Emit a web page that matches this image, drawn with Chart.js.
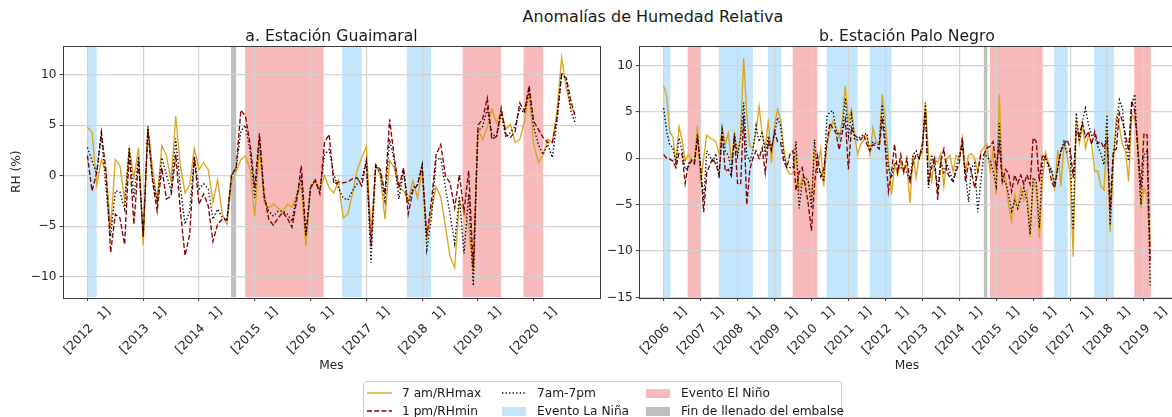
<!DOCTYPE html>
<html>
<head>
<meta charset="utf-8">
<title>Anomalías de Humedad Relativa</title>
<script src="https://cdn.jsdelivr.net/npm/chart.js@4.4.1/dist/chart.umd.min.js"></script>
<style>
  html, body { margin: 0; padding: 0; background: #fff; overflow: hidden; }
  #fig { position: relative; width: 1172px; height: 417px; overflow: hidden;
         font-family: 'DejaVu Sans', sans-serif; color: #1a1a1a; }
  #suptitle { position: absolute; left: 653px; top: 8px; transform: translateX(-50%);
              font-size: 16px; line-height: 18px; white-space: nowrap; }
  canvas { position: absolute; top: 0; }
  #panelA { left: 0; }
  #panelB { left: 585px; }
  #legend { position: absolute; left: 363px; top: 381px; width: 477px; height: 50px;
            border: 1px solid #cccccc; border-radius: 3px; background: rgba(255,255,255,0.85);
            font-size: 12.2px; }
  .item { position: absolute; height: 16px; display: flex; align-items: center; white-space: nowrap; }
  .item svg { display: block; }
  .swatch { display: inline-block; width: 24px; height: 9px; }
</style>
</head>
<body>
<div id="fig">
  <div id="suptitle">Anomalías de Humedad Relativa</div>
  <canvas id="panelA" width="615" height="417"></canvas>
  <canvas id="panelB" width="615" height="417"></canvas>
  <div id="legend">
    <div class="item" style="left:3px;top:3px;"><svg width="25" height="10"><line x1="0" y1="5" x2="25" y2="5" stroke="#daa520" stroke-width="1.35"/></svg><span style="margin-left:10px">7 am/RHmax</span></div>
    <div class="item" style="left:3px;top:21px;"><svg width="25" height="10"><line x1="0" y1="5" x2="25" y2="5" stroke="#8b0000" stroke-width="1.35" stroke-dasharray="5 2.2"/></svg><span style="margin-left:10px">1 pm/RHmin</span></div>
    <div class="item" style="left:138px;top:3px;"><svg width="25" height="10"><line x1="0" y1="5" x2="25" y2="5" stroke="#000" stroke-width="1.35" stroke-dasharray="1.35 2.2"/></svg><span style="margin-left:10px">7am-7pm</span></div>
    <div class="item" style="left:138px;top:21px;"><span class="swatch" style="background:rgba(135,206,250,0.5)"></span><span style="margin-left:11px">Evento La Niña</span></div>
    <div class="item" style="left:282px;top:3px;"><span class="swatch" style="background:rgba(240,128,128,0.55)"></span><span style="margin-left:11px">Evento El Niño</span></div>
    <div class="item" style="left:282px;top:21px;"><span class="swatch" style="background:rgba(128,128,128,0.5)"></span><span style="margin-left:11px">Fin de llenado del embalse</span></div>
  </div>
</div>
<script>
// ---------- Estación Guaimaral: monthly anomalies from Jan 2012 ----------
const guaimaralStartYear = 2012;
const guaimaralMax = [
  4.8, 4.3, -0.9, 1.6, 0.4, -5.2, 1.6, 1.0, -2.4, 2.7,
  -0.2, 2.8, -6.9, 4.9, 0.8, -2.5, 3.0, 2.0, -0.5, 5.9,
  1.0, -1.7, -0.9, 2.7, 0.6, 1.3, 0.6, -2.6, -0.4, -3.8,
  -4.8, -0.7, 0.4, 1.6, 2.0, 0.6, -4.0, 2.8, -2.6, -3.2,
  -2.8, -3.2, -3.6, -2.8, -3.1, -2.0, -1.0, -7.0, -1.2, -0.5,
  -1.4, 0.0, -1.2, -1.7, -0.5, -4.2, -3.8, -1.8, 0.5, 1.8,
  2.9, -6.0, 1.0, 0.1, -4.3, 1.5, 0.8, -1.2, -1.5, -2.5,
  -0.5, -2.2, 0.5, -6.3, -3.4, -1.1, -2.1, -5.0, -8.0, -9.1,
  -2.5, -3.5, -5.0, -9.5, 4.6, 3.6, 4.8, 6.6, 5.2, 6.4,
  4.6, 5.1, 3.3, 3.6, 5.4, 8.2, 3.1, 1.3, 2.1, 3.6,
  3.3, 6.4, 11.7, 8.7, 6.7, 6.2
];
const guaimaralMin = [
  2.0, -1.5, 0.3, 4.3, 0.5, -7.6, -3.8, -4.2, -6.8, 2.4,
  -4.8, 1.5, -6.0, 4.6, -0.5, -3.5, 0.8, -2.3, -2.0, 2.1,
  -3.5, -7.9, -5.8, 1.8, -2.8, -1.8, -3.0, -6.5, -4.8, -4.3,
  -4.4, 0.1, 0.8, 6.5, 5.9, 3.1, -1.2, 4.2, -1.8, -4.3,
  -4.9, -4.2, -3.6, -4.2, -5.1, -2.5, 1.0, -5.8, -1.2, -0.4,
  -1.8, 3.3, 4.1, -0.8, -0.6, -0.7, -0.6, -0.3, -0.2, -1.0,
  1.5, -7.0, 1.1, 0.6, -1.8, 5.6, 1.8, -1.2, 0.8, -3.8,
  -1.5, -0.9, 1.0, -6.0, -2.5, 2.1, 3.1, 0.0, -0.7, -3.2,
  0.1, -3.5, 0.5, -9.1, 5.0, 5.6, 7.7, 3.6, 3.9, 6.7,
  4.1, 3.8, 4.4, 7.2, 6.4, 8.9, 5.4, 4.6, 3.8, 3.3,
  3.3, 5.7, 10.0, 9.7, 7.4, 5.7
];
const guaimaralMean = [
  2.8, 1.5, 0.2, 4.1, -1.2, -6.0, -1.5, -1.6, -3.3, 2.8,
  -2.2, 1.9, -6.0, 4.9, -0.2, -2.5, 1.8, 0.1, -1.5, 3.7,
  -1.2, -4.8, -3.5, 1.9, -1.3, -0.8, -1.3, -4.3, -3.3, -4.1,
  -4.4, 0.0, 0.8, 4.4, 5.0, 2.4, -2.2, 3.8, -2.2, -3.5,
  -4.0, -3.5, -3.5, -3.8, -4.5, -2.0, -0.2, -6.0, -1.0, -0.5,
  -1.5, 2.1, 2.6, 0.1, -1.2, -2.2, -2.4, -1.5, -0.8, -0.3,
  1.5, -8.6, 1.0, 0.3, -2.5, 3.6, 1.5, -2.3, 0.5, -2.8,
  -1.2, -0.9, 1.1, -7.3, -4.2, 1.5, 1.8, -1.2, -3.8, -6.7,
  -2.0, -7.7, -1.8, -10.9, 4.4, 4.9, 6.6, 4.1, 3.9, 6.2,
  3.8, 4.3, 4.9, 6.7, 6.2, 8.4, 4.8, 3.1, 2.1, 3.1,
  1.8, 5.4, 10.2, 9.5, 6.4, 5.1
];
const guaimaralYears = [2012, 2013, 2014, 2015, 2016, 2017, 2018, 2019, 2020];
// event windows, in months since the first month of the record
const guaimaralNina = [[0, 2.0], [54.8, 59.0], [68.7, 73.9]];
const guaimaralNino = [[33.9, 50.8], [80.7, 89.0], [93.8, 98.0]];
const guaimaralFill = [[30.9, 32.0]];
const guaimaralYTicks = [-10, -5, 0, 5, 10];

// ---------- Estación Palo Negro: monthly anomalies from Jan 2006 ----------
const paloNegroStartYear = 2006;
const paloNegroMax = [
  7.8, 6.7, 2.8, 2.3, -0.5, 3.4, 2.0, -0.3, 0.4, -0.1,
  -0.3, 3.5, -2.8, 0.0, 2.5, 2.2, 2.0, 1.8, 0.4, 3.3,
  1.5, 2.7, -0.3, 2.6, 0.4, 2.5, 10.8, 4.7, 1.3, 1.1,
  2.8, 5.6, 2.7, 1.1, 4.2, -0.5, 3.5, 5.3, 4.2, 1.1,
  -1.2, -1.7, -1.7, 0.6, -3.5, -2.0, -3.0, -2.5, -4.3, 0.5,
  -1.0, 1.0, -3.0, 1.5, 2.9, 4.0, 3.2, 2.2, 4.0, 7.8,
  4.0, 5.3, 2.5, 0.4, 1.5, 2.0, 2.4, 0.4, 3.3, 1.8,
  1.5, 6.9, 4.0, 0.0, -3.9, -0.7, -1.8, -0.3, -1.4, -0.7,
  -4.8, 0.4, -2.1, 0.4, 0.5, 6.0, 0.4, -2.5, 0.0, -0.5,
  0.5, -3.0, 0.0, 0.3, -1.4, 0.3, 0.0, 2.2, -1.4, 0.3,
  0.5, 0.0, -1.5, 0.7, 1.2, 1.5, -1.4, 0.8, -3.9, 6.9,
  -2.5, -1.9, -5.0, -6.8, -3.9, -5.4, -3.2, -4.5, -3.5, -8.5,
  -2.5, -3.2, -8.6, -2.5, 0.6, -0.5, -1.4, -3.2, 0.9, -3.0,
  1.5, 0.4, -1.8, -10.6, 4.2, 1.6, 3.6, 1.1, 2.5, 1.5,
  -1.4, -1.4, -3.0, -3.4, 2.9, -7.9, -0.7, 4.5, 3.4, 1.5,
  0.7, -2.5, 4.7, 4.2, 2.4, -5.4, -3.2, -4.0, -9.5
];
const paloNegroMin = [
  0.4, 0.0, -0.1, -0.3, -1.0, 0.6, 0.4, -2.7, -0.6, -0.3,
  -0.6, 2.2, -1.0, -5.8, -1.6, -0.7, 0.0, -0.7, -1.8, 2.9,
  -1.4, -1.2, -1.9, 2.4, -2.7, -2.8, 4.6, -5.0, -1.2, 0.0,
  0.8, 0.0, 1.1, -1.6, 1.8, 0.8, 2.9, 1.8, 1.7, -0.3,
  -1.0, 0.4, 0.8, -3.5, -1.5, -1.0, -3.0, -5.0, -7.8, -2.8,
  0.2, -2.0, -1.2, 1.5, 3.8, 3.2, 2.7, 0.9, 2.8, 4.2,
  -1.2, 3.3, 2.5, 2.2, 2.0, 2.5, 1.5, 0.8, 1.5, 1.3,
  1.0, 4.4, 1.0, -3.6, -1.5, 1.5, -1.5, 0.4, -1.5, 0.0,
  -2.5, -0.5, 0.4, 0.0, 1.5, 5.0, -2.8, -1.0, 0.0, -4.5,
  -0.3, 1.0, -1.4, -2.1, -2.5, -1.4, -0.5, 2.2, -2.5, -0.5,
  -1.5, -3.2, -1.5, 0.4, 0.4, 1.1, 1.3, 1.8, -1.0, 1.5,
  -2.5, -1.2, -1.6, -3.6, -1.8, -2.7, -1.8, -2.8, -1.8, -2.8,
  2.2, 1.8, -2.5, 0.4, 0.0, -0.7, -2.5, -3.2, -1.0, 0.8,
  1.5, 2.0, 1.1, -2.1, 2.9, 2.5, 3.8, 2.3, 2.9, 1.5,
  2.9, 1.6, 1.8, 1.1, 2.0, -5.5, 0.8, 1.0, 4.9, 4.0,
  2.5, 0.8, 6.2, 5.1, 1.0, -3.2, 2.7, 2.5, -11.0
];
const paloNegroMean = [
  5.4, 2.9, 1.4, 1.2, -0.6, 2.2, 0.8, -1.2, -1.0, -0.2,
  -0.5, 2.6, -1.0, -4.5, 0.8, 0.2, -0.3, 0.5, -2.1, 3.1,
  0.8, 0.3, -1.4, 2.7, 0.3, 2.2, 6.0, 0.4, -0.3, 0.8,
  3.5, 1.8, 2.9, 0.4, 2.4, 1.1, 2.6, 4.4, 3.5, 0.4,
  -1.0, -1.0, -1.0, 1.8, -5.4, -2.5, -2.0, -2.5, -5.4, 2.0,
  -1.5, -1.5, -2.5, 4.5, 5.0, 5.1, 3.0, 2.5, 2.9, 6.5,
  2.4, 4.7, 2.0, 2.0, 2.4, 2.5, 2.7, 0.8, 1.8, 1.5,
  1.5, 5.8, 2.0, -1.0, -2.1, -0.5, -0.7, -1.0, -1.4, -1.5,
  -2.5, 0.4, 0.8, 0.0, 1.0, 6.0, -3.2, 0.4, -1.0, -3.2,
  -0.3, -1.5, -0.6, -1.6, -2.5, -0.9, 0.3, 1.3, -1.5, -4.7,
  -1.0, -0.5, -5.8, -2.5, 0.4, 0.2, -0.3, -1.4, -3.0, 3.8,
  -2.5, -2.5, -3.9, -5.7, -4.6, -5.4, -4.3, -3.2, -4.6, -8.2,
  -2.1, -2.5, -7.5, -0.5, 0.2, -1.0, -1.2, -2.8, -1.0, 0.8,
  1.8, 0.6, 0.8, -7.7, 4.9, 1.8, 4.0, 5.4, 3.6, 2.5,
  2.4, 1.3, 0.5, -0.7, 4.7, -7.2, 0.0, 3.3, 6.3, 5.4,
  1.5, -0.3, 5.8, 6.9, 0.4, -5.0, 0.4, 0.8, -13.7
];
const paloNegroYears = [2006, 2007, 2008, 2009, 2010, 2011, 2012, 2013, 2014, 2015, 2016, 2017, 2018, 2019];
const paloNegroNina = [[0, 2.2], [17.9, 29.0], [33.9, 38.2], [52.9, 63.0], [67.0, 74.0], [126.8, 131.2], [139.8, 146.2]];
const paloNegroNino = [[7.8, 11.9], [41.9, 49.9], [106.0, 123.1], [152.8, 158.2]];
const paloNegroFill = [[104.0, 105.1]];
const paloNegroYTicks = [-15, -10, -5, 0, 5, 10];

// ---------- styling ----------
const FONT = "'DejaVu Sans', sans-serif";
const TICK_SIZE = 12.2;
const TITLE_SIZE = 15.7;
const TEXT = '#262626';
const SPINE = '#3b3b3b';
const GRID = '#d2d2d2';
const COLOR_MAX = '#daa520';
const COLOR_MIN = '#8b0000';
const COLOR_MEAN = '#000000';
const NINA_FILL = 'rgba(135,206,250,0.5)';
const NINO_FILL = 'rgba(240,128,128,0.55)';
const FILL_GRAY = 'rgba(128,128,128,0.5)';

Chart.defaults.font.family = FONT;
Chart.defaults.font.size = TICK_SIZE;
Chart.defaults.color = TEXT;

const minus = v => (v < 0 ? '\u2212' + Math.abs(v) : String(v));

// shaded event windows, painted before the grid so grid lines stay visible
const shadePlugin = {
  id: 'shade',
  beforeDraw(chart, args, opts) {
    const { ctx, chartArea: a, scales: { x } } = chart;
    ctx.save();
    ctx.beginPath();
    ctx.rect(a.left, a.top, a.right - a.left, a.bottom - a.top);
    ctx.clip();
    for (const g of opts.groups) {
      ctx.fillStyle = g.color;
      for (const [s, e] of g.ranges) {
        const x0 = x.getPixelForValue(s);
        const x1 = x.getPixelForValue(e);
        ctx.fillRect(x0, a.top, x1 - x0, a.bottom - a.top);
      }
    }
    ctx.restore();
  }
};

// closed box around the plotting area
const framePlugin = {
  id: 'frame',
  afterDraw(chart) {
    const { ctx, chartArea: a } = chart;
    ctx.save();
    ctx.strokeStyle = SPINE;
    ctx.lineWidth = 1;
    ctx.strokeRect(Math.round(a.left) + 0.5, Math.round(a.top) + 0.5,
                   Math.round(a.right - a.left), Math.round(a.bottom - a.top));
    ctx.restore();
  }
};

// diagonal "[year   1]" labels, centred under each January tick
const yearLabelPlugin = {
  id: 'yearLabels',
  afterDraw(chart, args, opts) {
    const { ctx, chartArea: a, scales: { x } } = chart;
    ctx.save();
    ctx.font = TICK_SIZE + 'px ' + FONT;
    ctx.fillStyle = TEXT;
    ctx.textAlign = 'center';
    ctx.textBaseline = 'middle';
    const h = TICK_SIZE * 1.17;
    for (const t of opts.ticks) {
      const px = x.getPixelForValue(t.value);
      const w = ctx.measureText(t.label).width;
      const boxH = (w + h) * Math.SQRT1_2;
      const cy = a.bottom + 7 + boxH / 2;
      ctx.save();
      ctx.translate(px, cy);
      ctx.rotate(-Math.PI / 4);
      ctx.fillText(t.label, 0, 0);
      ctx.restore();
    }
    ctx.restore();
  }
};

function buildPanel(id, p) {
  const pts = vals => vals.map((v, i) => ({ x: i, y: v }));
  const xTicks = p.years.map(yr => ({ value: (yr - p.startYear) * 12, label: '[' + yr + '   1]' }));
  const gridOpts = { color: GRID, lineWidth: 1.2, tickLength: 3.5, tickColor: SPINE, tickWidth: 1 };
  return new Chart(document.getElementById(id), {
    type: 'line',
    data: {
      datasets: [
        { label: '7 am/RHmax', data: pts(p.max), borderColor: COLOR_MAX, borderWidth: 1.35, order: 3 },
        { label: '1 pm/RHmin', data: pts(p.min), borderColor: COLOR_MIN, borderWidth: 1.35, borderDash: [5, 2.2], order: 2 },
        { label: '7am-7pm', data: pts(p.mean), borderColor: COLOR_MEAN, borderWidth: 1.35, borderDash: [1.35, 2.2], order: 1 }
      ]
    },
    options: {
      responsive: false,
      animation: false,
      devicePixelRatio: 1,
      elements: { point: { radius: 0 }, line: { tension: 0, fill: false } },
      layout: { padding: p.padding },
      plugins: {
        legend: { display: false },
        tooltip: { enabled: false },
        title: {
          display: true, text: p.title, fullSize: false, color: '#1a1a1a',
          font: { size: TITLE_SIZE, weight: 'normal', lineHeight: 1.2 }, padding: { top: 0, bottom: 0 }
        },
        shade: {
          groups: [
            { color: NINA_FILL, ranges: p.nina },
            { color: NINO_FILL, ranges: p.nino },
            { color: FILL_GRAY, ranges: p.fill }
          ]
        },
        yearLabels: { ticks: xTicks }
      },
      scales: {
        x: {
          type: 'linear', min: p.xMin, max: p.xMax,
          afterBuildTicks: s => { s.ticks = xTicks.map(t => ({ value: t.value })); },
          afterFit: s => { s.height = 76; },
          grid: gridOpts,
          border: { display: false },
          ticks: { display: false },
          title: { display: true, text: 'Mes', color: TEXT, font: { size: TICK_SIZE }, padding: 0 }
        },
        y: {
          type: 'linear', min: p.yMin, max: p.yMax,
          afterBuildTicks: s => { s.ticks = p.yTicks.map(v => ({ value: v })); },
          afterFit: s => { s.width = p.yWidth; },
          grid: gridOpts,
          border: { display: false },
          ticks: { padding: 3, color: TEXT, callback: v => minus(v) },
          title: p.yTitle
            ? { display: true, text: p.yTitle, color: TEXT, font: { size: TICK_SIZE }, padding: { top: 10, bottom: 0 } }
            : { display: false }
        }
      }
    },
    plugins: [shadePlugin, framePlugin, yearLabelPlugin]
  });
}

// title block is TITLE_SIZE*1.2 tall; top padding keeps the plot top at y=46
const titleBlock = TITLE_SIZE * 1.2;

buildPanel('panelA', {
  title: 'a. Estación Guaimaral', yTitle: 'RH (%)',
  startYear: guaimaralStartYear, years: guaimaralYears,
  max: guaimaralMax, min: guaimaralMin, mean: guaimaralMean,
  nina: guaimaralNina, nino: guaimaralNino, fill: guaimaralFill,
  xMin: -5.25, xMax: 110.25, yMin: -12.05, yMax: 12.85, yTicks: guaimaralYTicks,
  yWidth: 63, padding: { left: 0, right: 15, top: 46 - titleBlock, bottom: 43.5 }
});

buildPanel('panelB', {
  title: 'b. Estación Palo Negro', yTitle: null,
  startYear: paloNegroStartYear, years: paloNegroYears,
  max: paloNegroMax, min: paloNegroMin, mean: paloNegroMean,
  nina: paloNegroNina, nino: paloNegroNino, fill: paloNegroFill,
  xMin: -7.9, xMax: 165.9, yMin: -15, yMax: 12.1, yTicks: paloNegroYTicks,
  yWidth: 54.3, padding: { left: 0, right: 25.5, top: 46 - titleBlock, bottom: 43.5 }
});
</script>
</body>
</html>
